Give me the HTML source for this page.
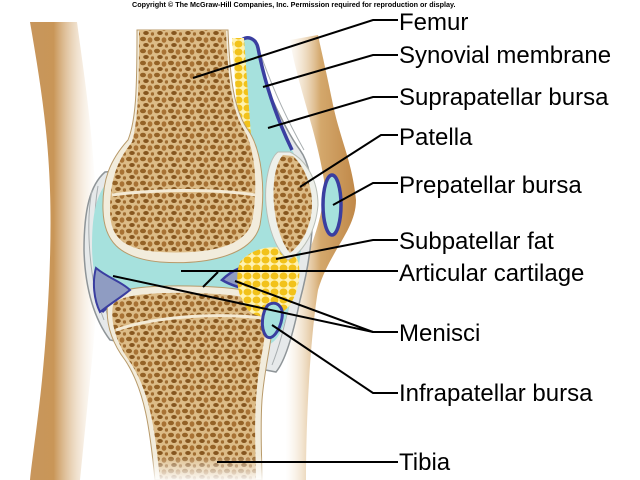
<!DOCTYPE html>
<html><head><meta charset="utf-8">
<style>
html,body{margin:0;padding:0;background:#fff;}
svg{display:block;}
text{font-family:"Liberation Sans",Arial,sans-serif;}
</style></head>
<body>
<svg width="640" height="480" viewBox="0 0 640 480" xmlns="http://www.w3.org/2000/svg">
<defs>
<pattern id="sp" width="14" height="12" patternUnits="userSpaceOnUse">
<rect width="14" height="12" fill="#dcbb86"/>
<ellipse cx="3" cy="3" rx="3" ry="2.3" fill="#946226"/>
<ellipse cx="10" cy="4" rx="2.4" ry="2.8" fill="#a87234"/>
<ellipse cx="6" cy="9" rx="2.8" ry="2" fill="#86561f"/>
<ellipse cx="12.5" cy="10" rx="1.7" ry="1.7" fill="#a06c30"/>
</pattern>
<pattern id="fat" width="9" height="8" patternUnits="userSpaceOnUse">
<rect width="9" height="8" fill="#fff2b0"/>
<ellipse cx="4.5" cy="4" rx="4" ry="3.5" fill="#f2c21a"/>
</pattern>
<linearGradient id="skL" x1="0" x2="1">
<stop offset="0" stop-color="#c28a4a" stop-opacity="0.9"/>
<stop offset="0.35" stop-color="#c99658"/>
<stop offset="1" stop-color="#f3e3cc" stop-opacity="0"/>
</linearGradient>
<linearGradient id="skR" x1="0" x2="1">
<stop offset="0" stop-color="#f3e3cc" stop-opacity="0"/>
<stop offset="0.5" stop-color="#d4a86c"/>
<stop offset="1" stop-color="#c08848"/>
</linearGradient>
<linearGradient id="tibfade" x1="0" y1="0" x2="0" y2="1">
<stop offset="0.75" stop-color="#fff" stop-opacity="0"/>
<stop offset="1" stop-color="#fff" stop-opacity="0.9"/>
</linearGradient>
<linearGradient id="femfade" x1="0" y1="0" x2="0" y2="1">
<stop offset="0" stop-color="#fff" stop-opacity="1"/>
<stop offset="0.12" stop-color="#fff" stop-opacity="0"/>
</linearGradient>
</defs>

<!-- left skin -->
<path d="M30,22 C40,80 48,130 50,190 C52,250 48,320 42,380 C38,420 32,460 30,480 L80,480 C84,440 88,400 92,360 C98,300 100,230 94,170 C90,110 82,60 77,22 Z" fill="url(#skL)"/>
<!-- right skin -->
<path d="M290,40 C296,80 316,130 324,180 C326,220 304,260 292,300 C286,350 284,420 286,480 L306,480 C306,420 310,340 318,290 C330,250 356,230 356,200 C352,160 340,140 332,100 C326,70 320,45 318,35 Z" fill="url(#skR)"/>

<!-- capsule (gray) -->
<path d="M248,38 C262,80 285,130 300,150 C318,175 316,240 300,300 C294,330 286,360 276,372 L110,340 C95,320 85,290 84,250 C84,210 90,185 105,172 L130,170 L240,170 Z" fill="#e6e9ea" stroke="#8f9598" stroke-width="1.5"/>
<path d="M92,190 C86,220 88,280 104,320 M98,186 C92,220 94,280 110,322" fill="none" stroke="#a8aeb0" stroke-width="1"/>
<path d="M256,40 C270,85 290,125 304,150 M290,300 C284,330 278,350 272,365" fill="none" stroke="#a8aeb0" stroke-width="1"/>

<!-- synovial cavity -->
<path d="M240,40 C244,36 256,38 258,48 C266,90 280,125 292,150 C310,180 305,250 292,295 C285,325 280,340 268,345 L120,330 C102,310 92,280 92,245 C92,210 98,190 110,180 L240,175 Z" fill="#a6e1dd"/>
<path d="M240,42 C246,34 256,38 258,48 C266,90 280,125 292,150" fill="none" stroke="#3a3ea0" stroke-width="3.5"/>
<path d="M96,270 C110,280 122,282 128,292 C118,300 108,305 102,312" fill="none" stroke="#3a3ea0" stroke-width="3"/>

<!-- suprapatellar fat strip -->
<path d="M232,38 L244,38 L252,150 L240,152 Z" fill="url(#fat)"/>

<!-- femur -->
<path d="M137,30 L228,30 C230,80 234,110 248,130 C262,150 266,190 260,225 C252,258 200,265 160,262 C118,258 104,240 103,210 C102,180 110,160 128,140 C136,120 137,90 137,30 Z" fill="#f2ecdc" stroke="#b89a6a" stroke-width="1"/>
<path d="M139,30 L226,30 C228,80 232,110 244,130 C256,150 258,190 252,222 C244,250 200,254 160,252 C122,250 110,236 110,210 C110,182 116,162 132,142 C138,120 139,90 139,30 Z" fill="url(#sp)"/>
<path d="M112,195 C150,190 210,188 256,195" fill="none" stroke="#f4ead4" stroke-width="3"/>
<rect x="130" y="20" width="110" height="40" fill="url(#femfade)"/>

<!-- tibia -->
<path d="M108,300 C112,290 140,285 190,286 C240,287 268,292 272,305 C276,330 265,360 262,400 C260,430 262,460 262,480 L155,480 C150,430 145,390 125,360 C110,340 105,320 108,300 Z" fill="#f2ecdc" stroke="#b89a6a" stroke-width="1"/>
<path d="M113,305 C118,296 145,292 190,293 C238,294 264,298 266,310 C268,335 258,362 256,400 C254,430 256,460 256,480 L160,480 C155,430 150,392 130,362 C116,342 110,322 113,305 Z" fill="url(#sp)"/>
<path d="M116,330 C150,318 210,312 262,318" fill="none" stroke="#f4ead4" stroke-width="3"/>
<rect x="140" y="380" width="130" height="100" fill="url(#tibfade)"/>

<!-- menisci -->
<path d="M96,268 C108,278 122,282 130,290 C120,298 110,304 100,312 C94,300 92,282 96,268 Z" fill="#8f9cc2" stroke="#3a3ea0" stroke-width="2"/>
<path d="M222,280 C232,270 245,264 258,266 L260,292 C248,290 232,286 222,280 Z" fill="#8f9cc2" stroke="#3a3ea0" stroke-width="2.5"/>

<!-- infrapatellar fat -->
<path d="M240,262 C252,248 272,244 292,250 C304,262 300,290 290,305 C280,318 262,320 250,312 C238,300 234,278 240,262 Z" fill="url(#fat)"/>

<!-- infrapatellar bursa -->
<path d="M268,305 C276,300 284,306 282,318 C280,330 272,342 266,336 C260,328 262,312 268,305 Z" fill="#a6e1dd" stroke="#3a3ea0" stroke-width="3"/>

<!-- patella -->
<path d="M278,152 C270,158 264,180 266,205 C268,228 276,250 288,260 C304,252 316,230 318,205 C318,180 306,160 290,152 Z" fill="#eef0ea" stroke="#b8bdb5" stroke-width="1"/>
<path d="M283,155 C276,162 272,182 274,205 C276,226 282,244 290,253 C302,244 312,226 312,204 C312,182 302,164 293,156 Z" fill="url(#sp)"/>

<!-- prepatellar bursa -->
<ellipse cx="332" cy="205" rx="9" ry="30" fill="#a6e1dd" stroke="#3a3ea0" stroke-width="3.5"/>

<!-- leader lines -->
<g stroke="#000" stroke-width="2" fill="none">
<polyline points="398,20 373,20 193,78"/>
<polyline points="398,55 373,55 263,87"/>
<polyline points="398,97 373,97 268,128"/>
<polyline points="398,135 381,135 300,187"/>
<polyline points="398,183 373,183 333,205"/>
<polyline points="398,240 373,240 276,259"/>
<polyline points="398,271 181,271"/>
<polyline points="218,272 203,287"/>
<polyline points="398,332 373,332 113,276"/>
<polyline points="373,332 235,281"/>
<polyline points="398,393 373,393 272,325"/>
<polyline points="398,462 217,462"/>
</g>

<!-- labels -->
<g font-size="24" fill="#000">
<text x="399" y="30">Femur</text>
<text x="399" y="63">Synovial membrane</text>
<text x="399" y="105">Suprapatellar bursa</text>
<text x="399" y="145">Patella</text>
<text x="399" y="193">Prepatellar bursa</text>
<text x="399" y="249">Subpatellar fat</text>
<text x="399" y="281">Articular cartilage</text>
<text x="399" y="341">Menisci</text>
<text x="399" y="401">Infrapatellar bursa</text>
<text x="399" y="470">Tibia</text>
</g>
<text x="132" y="7" font-size="7.2" font-weight="bold" fill="#000">Copyright © The McGraw-Hill Companies, Inc. Permission required for reproduction or display.</text>
</svg>
</body></html>
